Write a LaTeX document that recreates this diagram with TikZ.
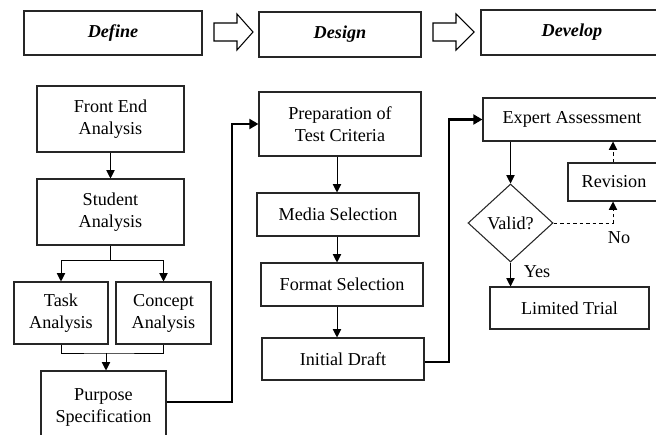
\documentclass[tikz,border=0pt]{standalone}
\usepackage{fontspec}
\setmainfont{Liberation Serif}
\usetikzlibrary{arrows.meta,shapes.geometric}
\newlength\pxu
\setlength\pxu{0.66pt}
\newcommand\txtsize{\fontsize{12}{14.5}\selectfont}
\tikzset{
  box/.style={draw=black!85,line width=0.7pt,align=center,inner sep=1pt},
  head/.style={box,font=\txtsize\bfseries\itshape},
  flow/.style={line width=0.6pt,-{Triangle[width=5.5pt,length=5.5pt]}},
  link/.style={line width=1.6pt,-{Triangle[width=6.5pt,length=6pt]}},
  back/.style={flow,dash pattern=on 2.5pt off 1.8pt}
}
\begin{document}
\begin{tikzpicture}[x=0.66pt,y=-0.66pt,font=\txtsize]
\useasboundingbox (0,0) rectangle (656,434);
\clip (0,0) rectangle (656,434);

% phases
\node[head,minimum width=178\pxu,minimum height=44\pxu] (define) at (113,33) {Define};
\node[head,minimum width=162\pxu,minimum height=45\pxu] (design) at (340,34.5) {Design};
\node[head,minimum width=182\pxu,minimum height=45\pxu] (develop) at (572,32.5) {Develop};
\draw[line width=0.7pt] (214,23) -- (237,23) -- (237,14) -- (253,32) -- (237,50) -- (237,41) -- (214,41) -- cycle;
\draw[line width=0.7pt] (433,23) -- (456,23) -- (456,14) -- (474,32) -- (456,50) -- (456,41) -- (433,41) -- cycle;

% define
\node[box,minimum width=147\pxu,minimum height=66\pxu] (fea) at (110.5,119) {Front End\\Analysis};
\node[box,minimum width=147\pxu,minimum height=66\pxu] (sa) at (110.5,212) {Student\\Analysis};
\node[box,minimum width=94\pxu,minimum height=62\pxu] (ta) at (61,313) {Task\\Analysis};
\node[box,minimum width=95\pxu,minimum height=62\pxu] (ca) at (163.5,313) {Concept\\Analysis};
\node[box,minimum width=125\pxu,minimum height=72\pxu] (ps) at (103.5,407) {Purpose\\Specification};
\coordinate (split) at (110.5,260);
\coordinate (join) at (106,353);

\draw[flow] (fea) -- (sa);
\draw[line width=0.6pt] (sa) -- (split);
\draw[flow] (split) -| (ta);
\draw[flow] (split) -| (ca);
\draw[line width=0.6pt] (ta.south) |- (join) -| (ca.south);
\draw[flow] (join) -- (ps.north -| join);

% design
\node[box,minimum width=162\pxu,minimum height=64\pxu] (ptc) at (340,124) {Preparation of\\Test Criteria};
\node[box,minimum width=162\pxu,minimum height=43\pxu] (ms) at (338,214.5) {Media Selection};
\node[box,minimum width=162\pxu,minimum height=43\pxu] (fs) at (342,284.5) {Format Selection};
\node[box,minimum width=162\pxu,minimum height=42\pxu] (id) at (343,359) {Initial Draft};

\draw[flow] (ptc.south -| 337,0) -- (ms.north -| 337,0);
\draw[flow] (ms.south -| 337,0) -- (fs.north -| 337,0);
\draw[flow] (fs.south -| 337,0) -- (id.north -| 337,0);
\coordinate (up1) at (232,402);
\draw[link] (ps.east |- up1) -- (up1) |- (ptc.west);

% develop
\node[box,minimum width=178\pxu,minimum height=43\pxu] (ea) at (572,119.5) {Expert Assessment};
\node[box,shape=diamond,inner sep=0pt,minimum width=85\pxu,minimum height=78\pxu] (valid) at (510.5,223) {Valid?};
\node[box,minimum width=92\pxu,minimum height=38\pxu] (rev) at (614,182) {Revision};
\node[box,minimum width=159\pxu,minimum height=42\pxu] (lt) at (569.5,308) {Limited Trial};
\node (no) at (619,238) {No};
\node (yes) at (537,272) {Yes};
\coordinate (up2) at (449,362);
\coordinate (turn) at (613,223);

\draw[link] (id.east |- up2) -- (up2) |- (ea.west);
\draw[flow] (ea.south -| valid) -- (valid.north);
\draw[flow] (valid.south) -- (lt.north -| valid.south);
\draw[back] (valid.east) -- (turn) -- (rev.south -| turn);
\draw[back] (rev.north -| turn) -- (ea.south -| turn);
\end{tikzpicture}
\end{document}
